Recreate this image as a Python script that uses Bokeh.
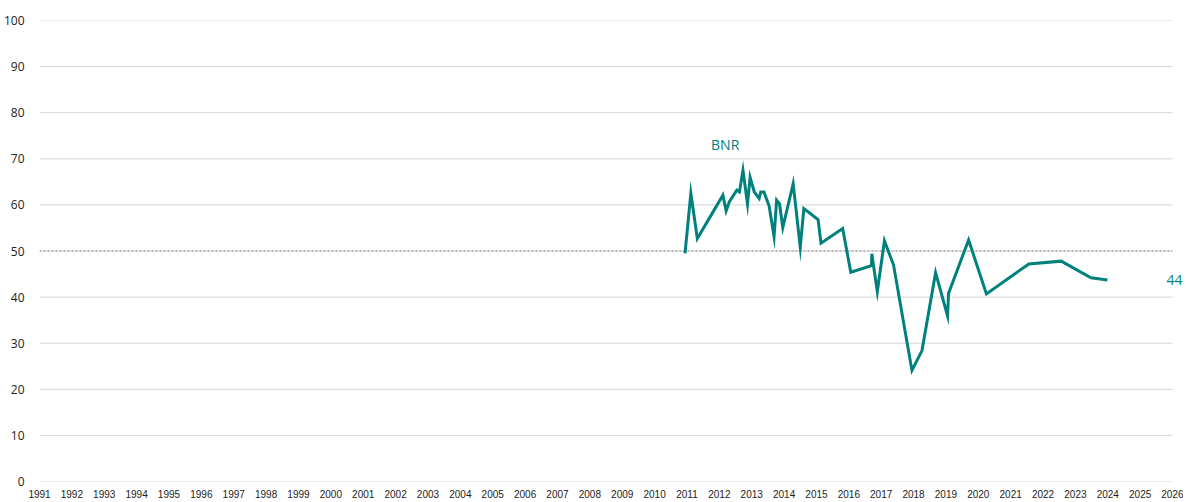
from bokeh.plotting import figure
from bokeh.models import Range1d, FixedTicker, Label
from bokeh.embed import file_html
from bokeh.resources import INLINE

# ---- data ----
series_name = "BNR"
dates = [2010.94, 2011.12, 2011.32, 2012.11, 2012.21, 2012.31, 2012.54, 2012.62,
         2012.73, 2012.87, 2012.95, 2013.08, 2013.23, 2013.28, 2013.38, 2013.54,
         2013.69, 2013.77, 2013.86, 2013.96, 2014.28, 2014.50, 2014.61, 2015.05,
         2015.14, 2015.81, 2016.06, 2016.70, 2016.71, 2016.88, 2017.10, 2017.38,
         2017.95, 2018.26, 2018.68, 2019.05, 2019.08, 2019.70, 2020.25, 2021.56,
         2022.56, 2023.48, 2023.99]
values = [49.5, 62.5, 52.7, 62.1, 58.7, 60.7, 63.2, 62.8, 67.5, 60.2, 66.0, 62.8,
          61.4, 62.8, 62.8, 59.7, 53.1, 61.0, 60.2, 55.1, 64.6, 50.8, 59.2, 56.8,
          51.7, 54.9, 45.4, 46.8, 49.4, 41.2, 52.2, 47.0, 24.1, 28.4, 45.3, 35.9,
          40.8, 52.4, 40.7, 47.2, 47.8, 44.2, 43.7]
x_ticks = list(range(1991, 2027))
y_ticks = list(range(0, 101, 10))
reference_level = 50

TEAL = "#00817e"

p = figure(width=1183, height=500, output_backend="svg", toolbar_location=None,
           x_range=Range1d(x_ticks[0], x_ticks[-1] + 0.338), y_range=Range1d(0, 100),
           min_border_left=32, min_border_right=0, min_border_top=20,
           min_border_bottom=0)
p.outline_line_color = None
p.background_fill_color = "white"

p.xaxis.ticker = FixedTicker(ticks=x_ticks)
p.yaxis.ticker = FixedTicker(ticks=y_ticks)
for ax in (p.xaxis[0], p.yaxis[0]):
    ax.axis_line_color = None
    ax.major_tick_line_color = None
    ax.minor_tick_line_color = None
p.xaxis.major_label_text_font = "Liberation Sans"
p.xaxis.major_label_text_font_size = "10px"
p.xaxis.major_label_text_color = "#222222"
p.xaxis.major_label_standoff = 2
p.yaxis.major_label_text_font = "Open Sans"
p.yaxis.major_label_text_font_size = "12px"
p.yaxis.major_label_text_color = "#222222"
p.yaxis.major_label_standoff = 9

p.xgrid.grid_line_color = None
p.ygrid.grid_line_color = None

# horizontal gridlines spanning the year axis only
p.segment(x0=[x_ticks[0]] * len(y_ticks), x1=[x_ticks[-1]] * len(y_ticks),
          y0=y_ticks, y1=y_ticks, line_color="#d4d4d4", line_width=1)

p.segment(x0=[x_ticks[0]], x1=[x_ticks[-1]], y0=[reference_level], y1=[reference_level],
          line_color="#bdbdbd", line_width=2, line_dash="2 2")

p.line(dates, values, line_color=TEAL, line_width=3, line_join="miter")

p.add_layout(Label(x=2012.18, y=73.2, text=series_name, text_color=TEAL,
                   text_font="Open Sans", text_font_size="14px",
                   text_align="center", text_baseline="middle"))
p.add_layout(Label(x=x_ticks[-1], y=values[-1], x_offset=-6, text=str(round(values[-1])),
                   text_color=TEAL, text_font="Open Sans", text_font_size="14px",
                   text_align="left", text_baseline="middle"))

open("out.html", "w").write(file_html(p, INLINE))
